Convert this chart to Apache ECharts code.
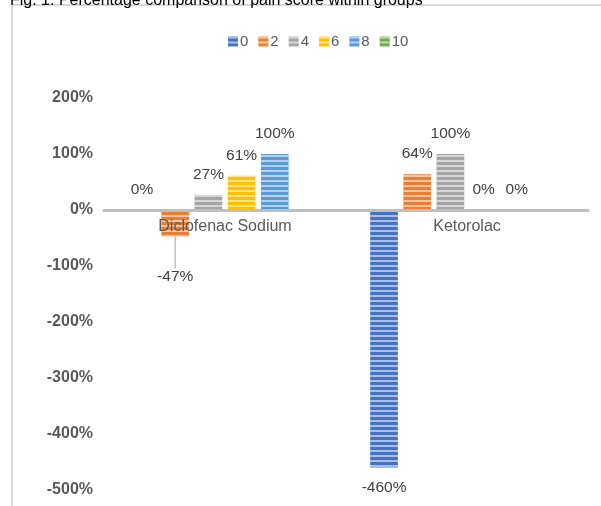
<!DOCTYPE html>
<html><head><meta charset="utf-8">
<script src="https://cdn.jsdelivr.net/npm/echarts@6/dist/echarts.min.js"></script>
<style>html,body{margin:0;padding:0;background:#fff}#c{width:601px;height:506px}</style>
</head><body><div id="c"></div>
<script>
const titleText = 'Fig. 1: Percentage comparison of pain score within groups';
const categories = ['Diclofenac Sodium', 'Ketorolac'];
const seriesNames = ['0', '2', '4', '6', '8', '10'];
const score0 = [0, -460];
const score2 = [-47, 64];
const score4 = [27, 100];
const score6 = [61, 0];
const score8 = [100, 0];
const score10 = [null, null];
const yTicks = { min: -500, max: 200, interval: 100 };

const colors = ['#4472C4', '#ED7D31', '#A5A5A5', '#FFC000', '#5B9BD5', '#70AD47'];
const allValues = [score0, score2, score4, score6, score8, score10];
const FONT = '"Liberation Sans", Arial, sans-serif';
const isMoved = v => v !== null && v < 0 && v > -100;

const series = allValues.map((vals, i) => ({
  name: seriesNames[i],
  type: 'bar',
  barGap: '20%',
  barCategoryGap: '20%',
  itemStyle: {
    color: colors[i],
    decal: { symbol: 'rect', symbolSize: 1, dashArrayX: [[1, 0]], dashArrayY: [2, 3], rotation: 0, color: 'rgba(255,255,255,0.55)' }
  },
  label: { show: true, formatter: p => p.value + '%', fontFamily: FONT, fontSize: 15.5, color: '#404040', distance: 12 },
  labelLine: { show: false, lineStyle: { color: '#A6A6A6', width: 1 } },
  labelLayout: p => isMoved(vals[p.dataIndex]) ? { dy: 20 } : null,
  data: vals.map(v => ({
    value: v,
    label: { position: (v !== null && v < 0) ? 'bottom' : 'top' },
    labelLine: { show: isMoved(v) }
  }))
}));

const chart = echarts.init(document.getElementById('c'));
chart.setOption({
  animation: false,
  backgroundColor: '#fff',
  color: colors,
  graphic: [
    { type: 'line', shape: { x1: 12, y1: 5, x2: 601, y2: 5 }, style: { stroke: '#D9D9D9', lineWidth: 2 } },
    { type: 'line', shape: { x1: 12, y1: 5, x2: 12, y2: 506 }, style: { stroke: '#D9D9D9', lineWidth: 2 } },
    { type: 'text', left: 10, top: -7, style: { text: titleText, font: '16px ' + FONT, fill: '#000' } }
  ],
  legend: {
    top: 29, left: 223,
    itemWidth: 10, itemHeight: 10, itemGap: 10,
    icon: 'rect',
    textStyle: { fontFamily: FONT, fontSize: 15, color: '#595959', padding: [0, 0, 0, -3] },
    data: seriesNames
  },
  grid: { left: 104, right: 13, top: 98, bottom: 16, containLabel: false, outerBoundsMode: 'none' },
  xAxis: {
    type: 'category', data: categories,
    axisLine: { onZero: true, lineStyle: { color: '#BFBFBF', width: 3 } },
    axisTick: { show: false },
    axisLabel: { fontFamily: FONT, fontSize: 16, color: '#595959', margin: -271 },
    z: 5
  },
  yAxis: {
    type: 'value', min: yTicks.min, max: yTicks.max, interval: yTicks.interval,
    axisLine: { show: false }, axisTick: { show: false }, splitLine: { show: false },
    axisLabel: { formatter: v => v + '%', fontFamily: FONT, fontSize: 16, fontWeight: 'bold', color: '#595959', margin: 11 }
  },
  series: series
});
</script></body></html>
